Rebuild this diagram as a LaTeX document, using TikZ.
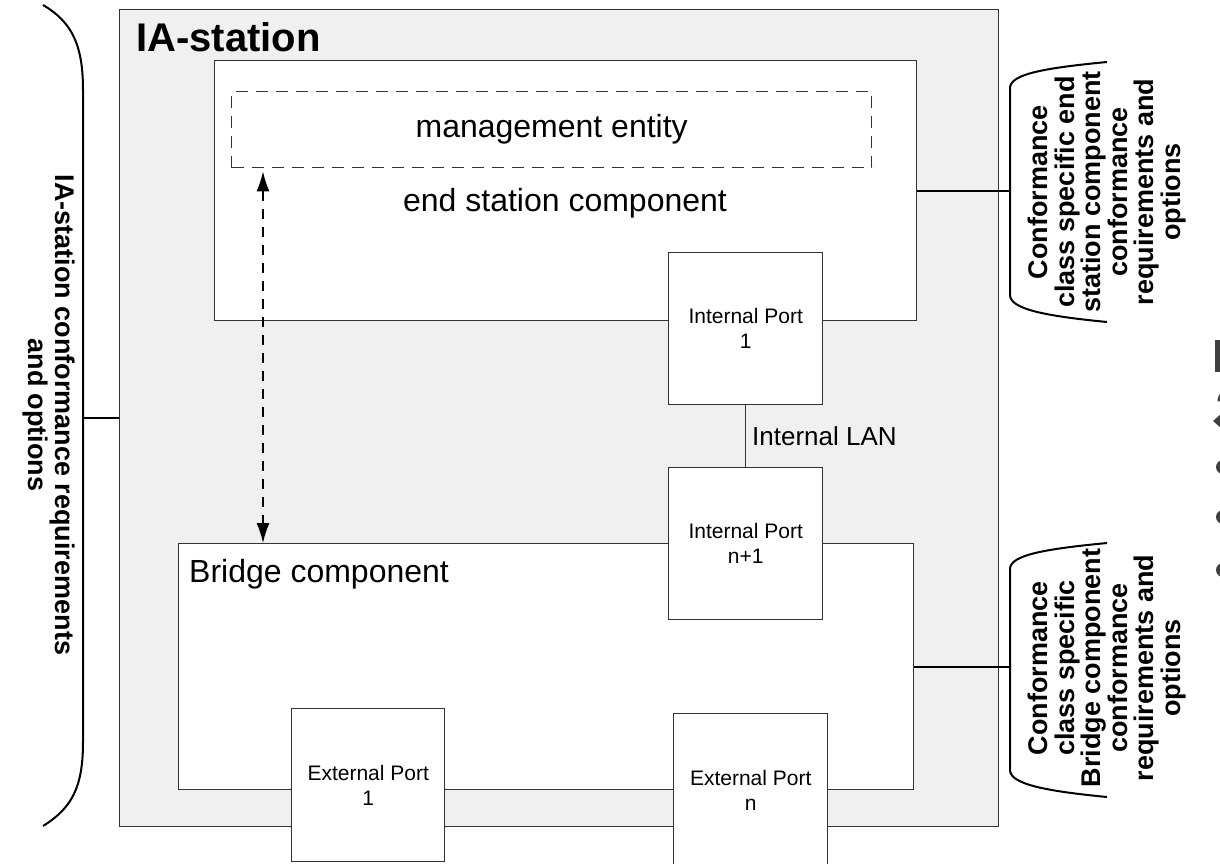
\documentclass[tikz,border=0pt]{standalone}
\usepackage{fontspec}
\setmainfont{Liberation Sans}
\usetikzlibrary{arrows.meta}
\definecolor{lineg}{HTML}{333333}
\definecolor{outerfill}{HTML}{F0F0F0}
\begin{document}
\begin{tikzpicture}[x=1pt,y=-1pt,
  box/.style={draw=lineg, line width=1.4pt, fill=white, anchor=north west, inner sep=0pt},
  portbox/.style={box, minimum width=154pt, minimum height=152pt, align=center, font=\fontsize{21}{25}\selectfont},
  brk/.style={draw=black, line width=2pt},
  brktext/.style={font=\fontsize{27}{26.6}\bfseries\selectfont, align=center, inner sep=0pt},
  lbl/.style={font=\fontsize{32}{36}\selectfont, inner sep=0pt},
  frag/.style={fill=black!75, draw=none}]
\useasboundingbox (0,0) rectangle (1220,864);
% outer IA-station
\node[box, fill=outerfill, minimum width=879pt, minimum height=817pt] (outer) at (119,9) {};
\node[font=\fontsize{40}{44}\bfseries\selectfont, anchor=west, inner sep=0pt] (iatitle) at (136,37) {IA-station};
% end station component
\node[box, minimum width=702pt, minimum height=260pt] (endst) at (214,60) {};
\node[box, fill=none, dash pattern=on 12pt off 8pt, minimum width=640pt, minimum height=76pt] (mgmt) at (231,91) {};
\node[lbl] (mgmttext) at (mgmt.center) {management entity};
\node[lbl] (endtext) at (565,203) {end station component};
% bridge component
\node[box, minimum width=735pt, minimum height=246pt] (bridge) at (178,543) {};
\node[lbl, anchor=west] (bridgetext) at (189,574) {Bridge component};
% ports
\node[portbox] (ip1) at (668,252) {Internal Port\\1};
\node[portbox] (ipn) at (668,467) {Internal Port\\n+1};
\node[portbox, minimum width=153pt, minimum height=153pt] (ep1) at (291,708) {External Port\\1};
\node[portbox, minimum width=154pt, minimum height=153pt] (epn) at (673,713) {External Port\\n};
\draw[lineg, line width=1.4pt] (ip1.south) -- (ipn.north);
\node[font=\fontsize{26}{30}\selectfont, anchor=west, inner sep=0pt] (lan) at (752,436) {Internal LAN};
% management arrow
\draw[black, line width=1.4pt, dash pattern=on 10pt off 8pt, {Latex[length=20pt,width=13pt]}-{Latex[length=20pt,width=13pt]}]
  ([xshift=32pt,yshift=-3pt]mgmt.south west) -- ([xshift=32pt]mgmt.south west |- bridge.north);
% left brace
\draw[brk] (43,5) .. controls (72,22) and (83,45) .. (83,90) -- (83,742) .. controls (83,787) and (72,808) .. (43,826);
\coordinate (lstub) at (83,0 |- outer.west);
\draw[brk] (outer.west) -- (lstub);
\node[brktext, rotate=-90] (ltext) at (49,415) {IA-station conformance requirements\\and options};
% upper right bracket
\draw[brk] (1107,62) .. controls (1045,68) and (1010,74) .. (1010,88) -- (1010,295) .. controls (1010,309) and (1045,316) .. (1107,322);
\coordinate (urstub) at (1010,0 |- endst.east);
\draw[brk] (endst.east) -- (urstub);
\node[brktext, rotate=90] (urtext) at (1107,192) {Conformance\\class specific end\\station component\\conformance\\requirements and\\options};
% lower right bracket
\draw[brk] (1107,543) .. controls (1045,549) and (1010,555) .. (1010,569) -- (1010,770) .. controls (1010,784) and (1045,791) .. (1107,797);
\coordinate (lrstub) at (1010,0 |- bridge.east);
\draw[brk] (bridge.east) -- (lrstub);
\node[brktext, rotate=90] (lrtext) at (1107,668) {Conformance\\class specific\\Bridge component\\conformance\\requirements and\\options};
% fragments at right edge
\fill[frag] (1215,340) rectangle (1221,372);
\draw[black!75, line width=4pt] (1226,392) arc (250:180:10);
\fill[frag] (1213,421) -- (1221,414) -- (1221,428) -- cycle;
\fill[frag] (1223,467) circle (7);
\fill[frag] (1223,517) circle (7);
\fill[frag] (1223,570) circle (7);
\end{tikzpicture}
\end{document}
